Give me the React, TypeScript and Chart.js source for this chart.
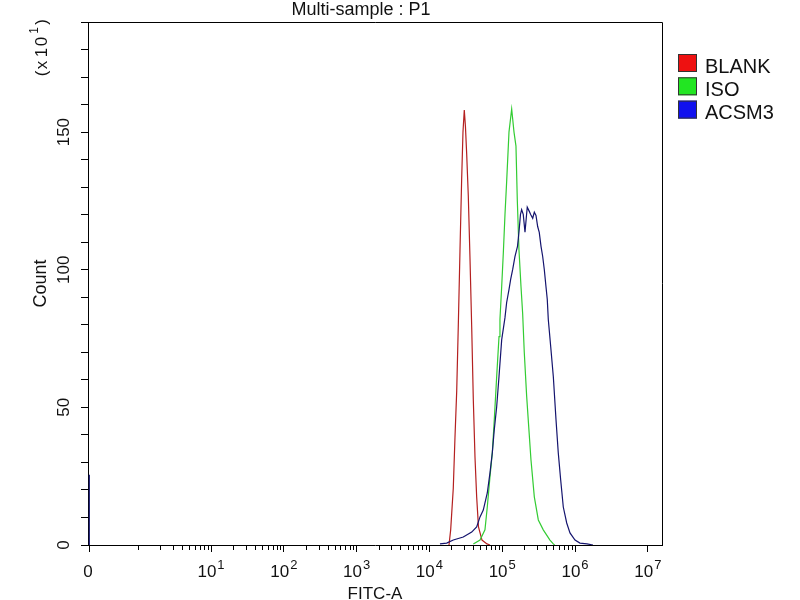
import { useEffect, useRef } from "react";
import { Chart, registerables, type ChartConfiguration, type Plugin } from "chart.js";

Chart.register(...registerables);

const FONT = '"Liberation Sans", Arial, sans-serif';

// x axis is shown in log10(FITC-A) units; the linear "0" channel sits left of 10^0
const ZERO_POS = -0.676;
const X_MIN = -0.69;
const X_MAX = 7.195;
const Y_MAX = 190;

const decades = [1, 2, 3, 4, 5, 6, 7];
const minorMultipliers = [1, 2, 3, 4, 5, 6, 7, 8, 9];
const yLabelStep = 50;

const seriesNames = ["BLANK", "ISO", "ACSM3"];
const lineColors = ["#b42020", "#33cc33", "#14146e"];
const legendColors = ["#ee1111", "#22e622", "#1111ee"];

// histogram outlines, x = log10(FITC-A), y = count (x 10)
const blankLog = [4.269, 4.292, 4.328, 4.351, 4.375, 4.397, 4.42, 4.443, 4.461, 4.479, 4.495, 4.512, 4.534, 4.557, 4.581, 4.603, 4.626, 4.649, 4.674, 4.722, 4.791, 4.832];
const blankCount = [0, 5.5, 20.7, 39, 56, 80, 107, 133, 150, 158, 152, 142, 127, 104.5, 79, 52.8, 32, 17.5, 6.6, 1.8, 0.4, 0];

const isoLog = [4.603, 4.695, 4.763, 4.795, 4.832, 4.864, 4.891, 4.924, 4.956, 4.969, 4.993, 5.015, 5.038, 5.061, 5.093, 5.13, 5.162, 5.189, 5.207, 5.23, 5.258, 5.281, 5.303, 5.336, 5.364, 5.395, 5.441, 5.496, 5.564, 5.656, 5.702, 5.72];
const isoCount = [0.4, 1.8, 5.5, 13.8, 24.8, 33.5, 45.5, 61.2, 75.7, 82, 94, 106, 120, 132, 150, 158.4, 150, 144.9, 125.5, 107.4, 93.9, 84, 70, 54, 43, 31, 17.5, 9.1, 5.5, 1.8, 0.4, 0];

const acsmZeroCount = 25.5;
const acsmLog = [4.145, 4.237, 4.328, 4.465, 4.581, 4.649, 4.695, 4.74, 4.795, 4.832, 4.864, 4.891, 4.924, 4.956, 4.993, 5.038, 5.061, 5.093, 5.116, 5.144, 5.175, 5.21, 5.23, 5.251, 5.267, 5.289, 5.313, 5.331, 5.344, 5.372, 5.391, 5.419, 5.441, 5.464, 5.487, 5.509, 5.533, 5.556, 5.578, 5.601, 5.619, 5.633, 5.649, 5.666, 5.702, 5.739, 5.77, 5.803, 5.839, 5.886, 5.931, 6.0, 6.068, 6.164, 6.247];
const acsmCount = [0.4, 0.7, 1.8, 2.9, 4.7, 6.6, 10.2, 12.7, 18.9, 26.2, 33.5, 41.9, 50.2, 61.2, 74.6, 82.6, 88.1, 92.8, 96.5, 100.1, 104.8, 108.5, 113.6, 120.1, 121.8, 120.1, 113.6, 119, 122.7, 121.2, 120.1, 118.7, 120.9, 119.7, 115.7, 113.6, 108.5, 104.8, 100.1, 93.9, 89.2, 81.9, 77.2, 72.1, 61.2, 45.5, 33.5, 23.7, 13.8, 8, 4.4, 1.8, 0.7, 0.4, 0];

const toPoints = (xs: number[], ys: number[]) => xs.map((x, i) => ({ x, y: ys[i] }));

const minorTicks = decades.slice(0, 6).flatMap((d) =>
  minorMultipliers.map((m) => d - 1 + Math.log10(m))
).filter((v) => !decades.includes(v));

// draws text turned to read bottom-to-top; (x, y) = baseline x, centre y
function drawRotated(ctx: CanvasRenderingContext2D, text: string, x: number, y: number, font: string) {
  ctx.save();
  ctx.translate(x, y);
  ctx.rotate(-Math.PI / 2);
  ctx.font = font;
  ctx.textAlign = "center";
  ctx.textBaseline = "alphabetic";
  ctx.fillText(text, 0, 0);
  ctx.restore();
}

const decorPlugin: Plugin<"line"> = {
  id: "decor",
  afterDraw(chart) {
    const { ctx, chartArea: area } = chart;
    const xs = chart.scales.x;
    ctx.save();

    // frame top + right
    ctx.strokeStyle = "#000";
    ctx.lineWidth = 1;
    const top = Math.round(area.top) + 0.5;
    const right = Math.round(area.right) + 0.5;
    ctx.beginPath();
    ctx.moveTo(area.left, top);
    ctx.lineTo(right, top);
    ctx.lineTo(right, area.bottom);
    ctx.stroke();

    // minor ticks on the x axis
    const bottom = Math.round(area.bottom);
    ctx.beginPath();
    minorTicks.forEach((v) => {
      const px = Math.round(xs.getPixelForValue(v)) + 0.5;
      ctx.moveTo(px, bottom);
      ctx.lineTo(px, bottom + 5);
    });
    ctx.stroke();

    // x tick labels: 0, 10^n
    ctx.fillStyle = "#111";
    ctx.textBaseline = "alphabetic";
    const base = area.bottom + 32;
    ctx.font = `17px ${FONT}`;
    ctx.textAlign = "center";
    ctx.fillText("0", xs.getPixelForValue(ZERO_POS) - 1, base);
    ctx.textAlign = "left";
    decades.forEach((d) => {
      const px = xs.getPixelForValue(d);
      ctx.font = `17px ${FONT}`;
      const w1 = ctx.measureText("10").width;
      ctx.font = `13px ${FONT}`;
      const w2 = ctx.measureText(String(d)).width;
      const start = px - (w1 + w2 + 1) / 2;
      ctx.font = `17px ${FONT}`;
      ctx.fillText("10", start, base);
      ctx.font = `13px ${FONT}`;
      ctx.fillText(String(d), start + w1 + 1, base - 8);
    });

    // axis titles
    ctx.textAlign = "center";
    ctx.font = `17px ${FONT}`;
    ctx.fillText("FITC-A", (area.left + area.right) / 2, 599);
    drawRotated(ctx, "Count", 46, (area.top + area.bottom) / 2, `18px ${FONT}`);

    // scale note "(x 10^1)", spaced out like the original
    const f17 = `17px ${FONT}`;
    drawRotated(ctx, "(", 47, 73.5, f17);
    drawRotated(ctx, "x", 47, 65, f17);
    drawRotated(ctx, "1", 47, 52.5, f17);
    drawRotated(ctx, "0", 47, 41.5, f17);
    drawRotated(ctx, "1", 38, 30.5, `12px ${FONT}`);
    drawRotated(ctx, ")", 47, 22, f17);

    // title
    ctx.font = `18px ${FONT}`;
    ctx.fillText("Multi-sample : P1", 361, 15);

    // legend
    seriesNames.forEach((name, i) => {
      const y = 54 + i * 23.3;
      ctx.fillStyle = legendColors[i];
      ctx.fillRect(678, y, 19, 18);
      ctx.strokeStyle = "#333";
      ctx.strokeRect(678.5, y + 0.5, 18, 17);
      ctx.fillStyle = "#111";
      ctx.font = `20px ${FONT}`;
      ctx.textAlign = "left";
      ctx.fillText(name, 705, y + 18.5);
    });

    ctx.restore();
  },
};

export default function App() {
  const chartRef = useRef<HTMLCanvasElement | null>(null);
  const chartInstanceRef = useRef<Chart | null>(null);

  useEffect(() => {
    if (!chartRef.current) return;
    if (chartInstanceRef.current) chartInstanceRef.current.destroy();

    const acsmPoints = [
      { x: ZERO_POS, y: 0 },
      { x: ZERO_POS, y: acsmZeroCount },
      { x: ZERO_POS + 0.008, y: 0 },
      { x: ZERO_POS + 0.01, y: null as unknown as number },
      ...toPoints(acsmLog, acsmCount),
    ];

    const config: ChartConfiguration<"line"> = {
      type: "line",
      data: {
        datasets: [
          { label: seriesNames[0], data: toPoints(blankLog, blankCount), borderColor: lineColors[0], order: 3 },
          { label: seriesNames[1], data: toPoints(isoLog, isoCount), borderColor: lineColors[1], order: 2 },
          { label: seriesNames[2], data: acsmPoints, borderColor: lineColors[2], order: 1 },
        ],
      },
      options: {
        responsive: true,
        maintainAspectRatio: false,
        animation: false,
        parsing: false,
        normalized: true,
        layout: { padding: { top: 22, right: 138, bottom: 0, left: 0 } },
        elements: {
          line: { borderWidth: 1.2, tension: 0, fill: false },
          point: { radius: 0, hoverRadius: 0 },
        },
        scales: {
          x: {
            type: "linear",
            min: X_MIN,
            max: X_MAX,
            afterBuildTicks: (scale) => {
              scale.ticks = [ZERO_POS, ...decades].map((value) => ({ value }));
            },
            afterFit: (scale) => {
              scale.height = 55;
            },
            grid: { drawOnChartArea: false, tickLength: 7, color: "#000" },
            border: { color: "#000", width: 1 },
            ticks: { display: false, autoSkip: false },
          },
          y: {
            type: "linear",
            min: 0,
            max: Y_MAX,
            afterFit: (scale) => {
              scale.width = 88;
            },
            grid: { drawOnChartArea: false, tickLength: 7, color: "#000" },
            border: { color: "#000", width: 1 },
            ticks: {
              stepSize: 10,
              autoSkip: false,
              minRotation: 90,
              maxRotation: 90,
              crossAlign: "center",
              padding: 3,
              color: "#111",
              font: { family: FONT, size: 17 },
              callback: (v) => (Number(v) % yLabelStep === 0 ? String(v) : ""),
            },
          },
        },
        plugins: {
          legend: { display: false },
          tooltip: { enabled: false },
        },
      },
      plugins: [decorPlugin],
    };

    chartInstanceRef.current = new Chart(chartRef.current, config);

    return () => {
      if (chartInstanceRef.current) {
        chartInstanceRef.current.destroy();
        chartInstanceRef.current = null;
      }
    };
  }, []);

  return (
    <div style={{ position: "absolute", left: 0, top: 0, width: 800, height: 600, background: "#fff" }}>
      <canvas ref={chartRef} />
    </div>
  );
}
